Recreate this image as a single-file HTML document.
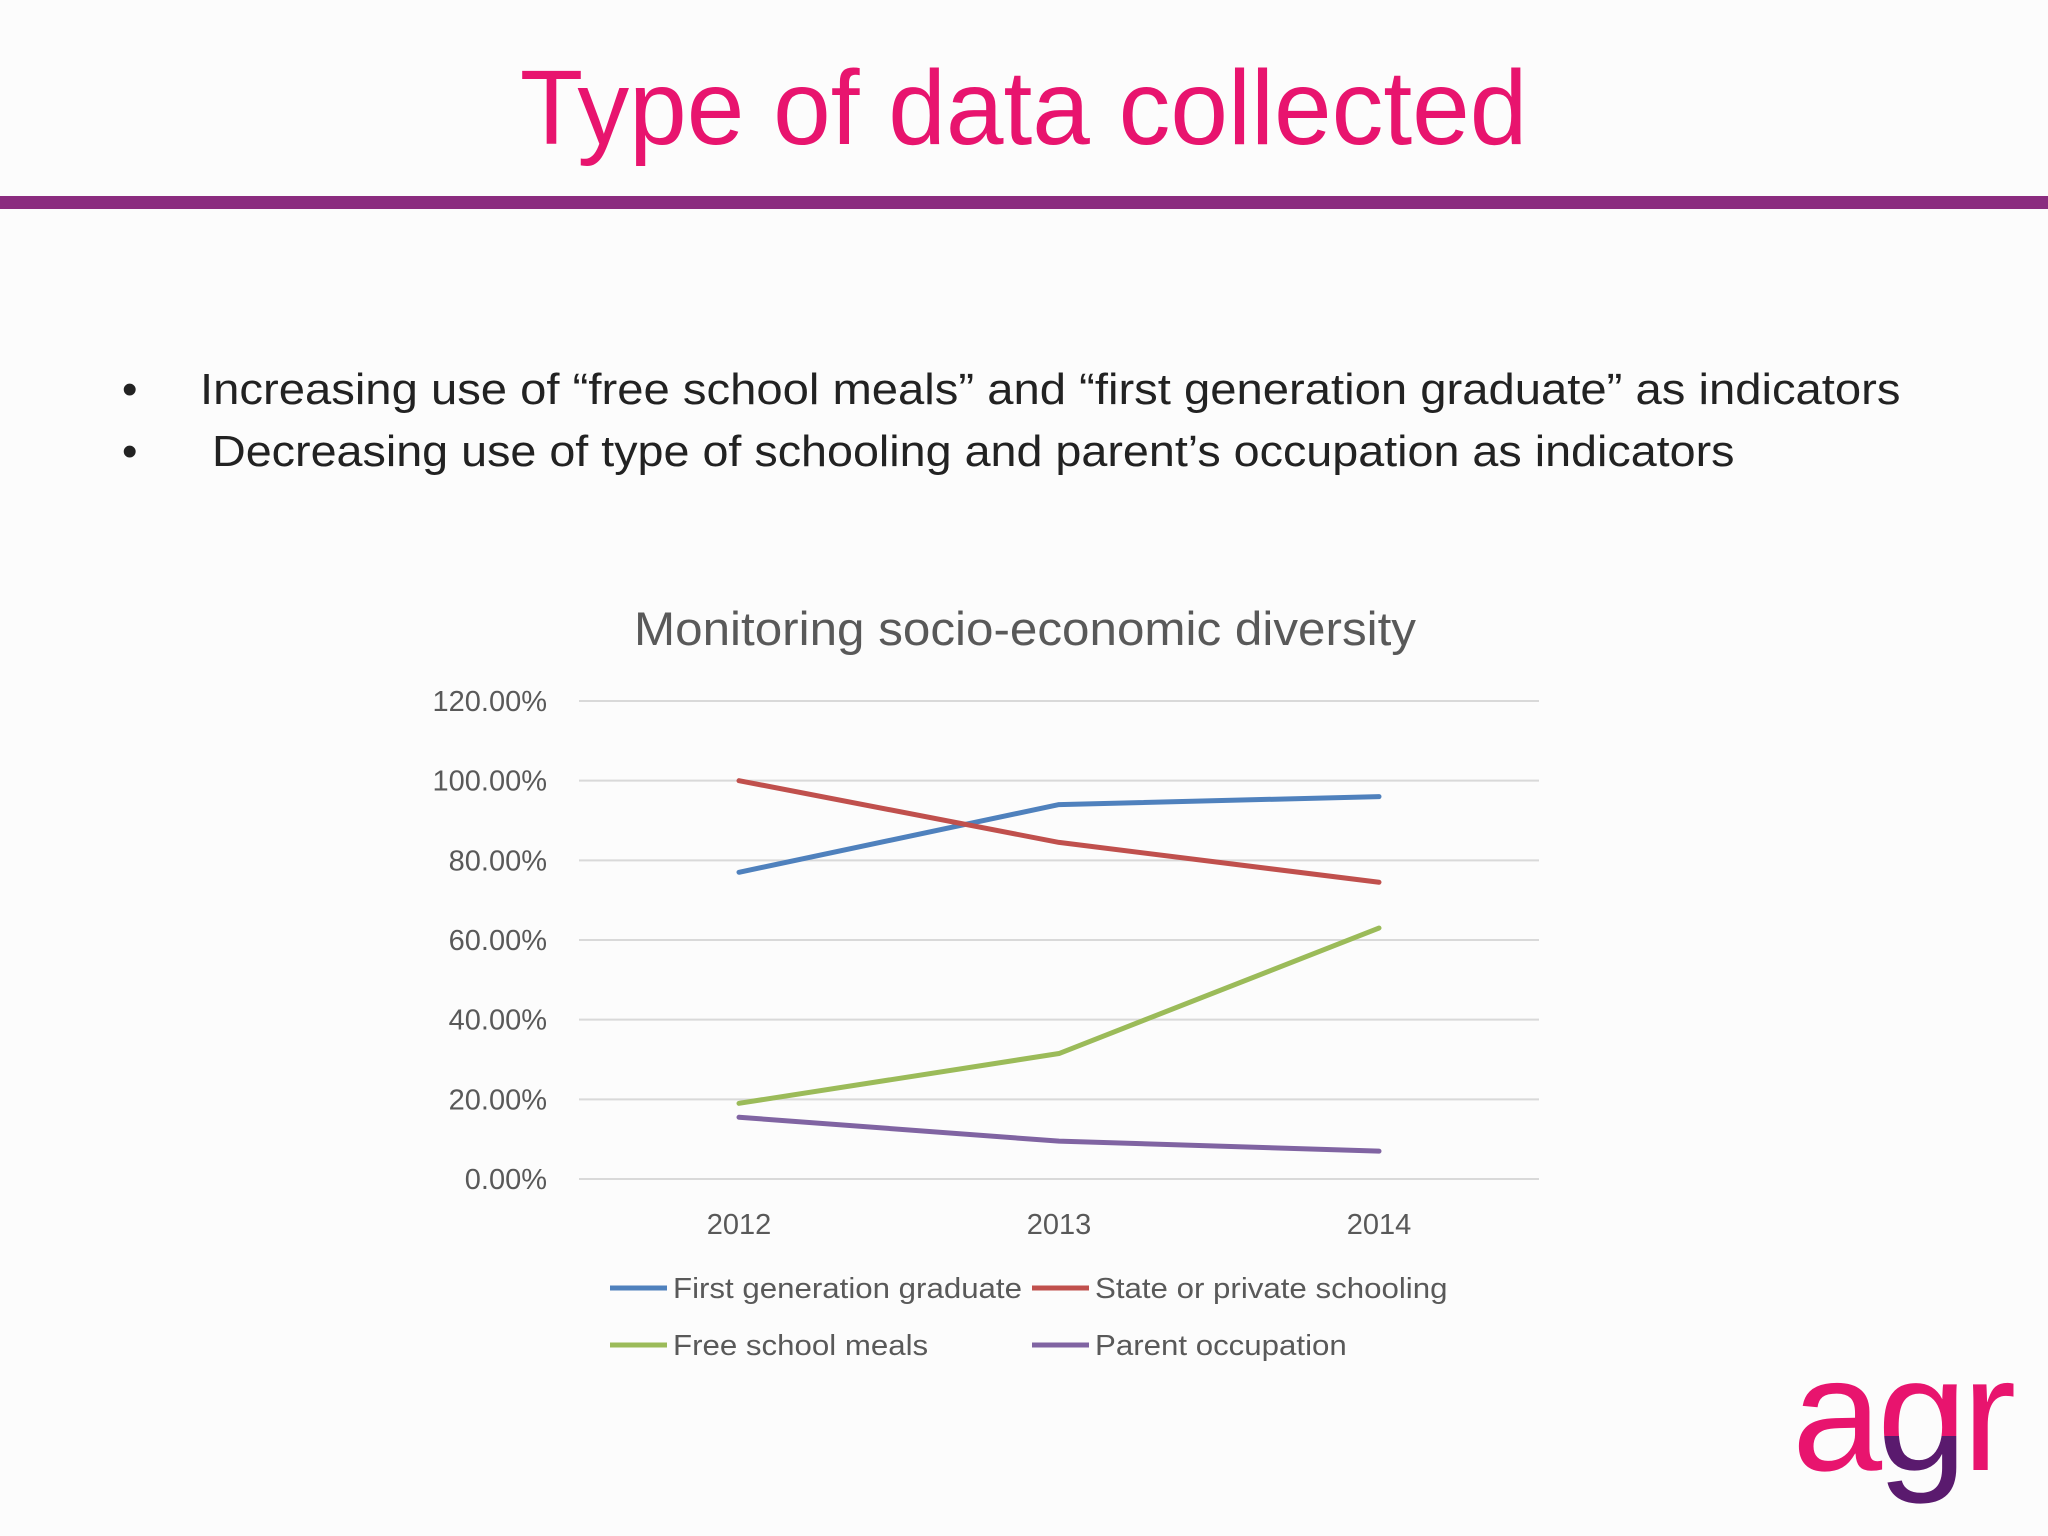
<!DOCTYPE html>
<html><head><meta charset="utf-8"><style>
html,body{margin:0;padding:0}
body{width:2048px;height:1536px;background:#fcfcfc;position:relative;overflow:hidden;font-family:"Liberation Sans","DejaVu Sans",sans-serif}
.abs{position:absolute}
.sx{display:inline-block;transform-origin:0 50%}
</style></head><body>
<div class="abs" style="left:0;width:2048px;top:48px;text-align:center;font-size:106px;color:#e8146e;line-height:120px"><span style="display:inline-block;transform:scaleX(0.977)">Type of data collected</span></div>
<div class="abs" style="left:0;top:196px;width:2048px;height:13px;background:#8b2c7f"></div>
<div class="abs" style="left:122px;top:365px;font-size:44px;color:#222;white-space:nowrap">•<span class="sx" style="position:absolute;left:78px;transform:scaleX(1.073)">Increasing use of “free school meals” and “first generation graduate” as indicators</span></div>
<div class="abs" style="left:122px;top:427px;font-size:44px;color:#222;white-space:nowrap">•<span class="sx" style="position:absolute;left:90px;transform:scaleX(1.061)">Decreasing use of type of schooling and parent’s occupation as indicators</span></div>
<svg class="abs" style="left:0;top:0" width="2048" height="1536" id="chart"></svg>
<div class="abs" style="left:1792px;top:1322px;font-size:162px;color:#e8146e;letter-spacing:-5px">a<span style="background:linear-gradient(#e8146e 0,#e8146e 62%,#5a1a6e 62%);-webkit-background-clip:text;background-clip:text;color:transparent">g</span>r</div>
<script>
const categories=["2012","2013","2014"];
const seriesNames=["First generation graduate","State or private schooling","Free school meals","Parent occupation"];
const firstGen=[77,94,96];
const schooling=[100,84.5,74.5];
const meals=[19,31.5,63];
const parentOcc=[15.5,9.5,7];
const yTicks=[0,20,40,60,80,100,120];
const colors=["#4f81bd","#c0504d","#9bbb59","#8064a2"];
const svg=document.getElementById('chart');const NS='http://www.w3.org/2000/svg';
const x0=579,x1=1539,yTop=701,yBot=1179;
const y=v=>yBot-(v/120)*(yBot-yTop);
const x=i=>x0+(i+0.5)*(x1-x0)/categories.length;
function mk(t,a){const e=document.createElementNS(NS,t);for(const k in a)e.setAttribute(k,a[k]);svg.appendChild(e);return e;}
let t=mk('text',{x:1025,y:645,'text-anchor':'middle','font-size':47,fill:'#595959',textLength:782,lengthAdjust:'spacingAndGlyphs'});t.textContent='Monitoring socio-economic diversity';


yTicks.forEach(v=>{const l=mk('line',{x1:x0,x2:x1,y1:y(v),y2:y(v),stroke:'#d9d9d9','stroke-width':2});


const tx=mk('text',{x:547,y:y(v)+10,'text-anchor':'end','font-size':29,fill:'#595959'});tx.textContent=v.toFixed(2)+'%';

});
categories.forEach((c,i)=>{const tx=mk('text',{x:x(i),y:1234,'text-anchor':'middle','font-size':29,fill:'#595959'});tx.textContent=c;

});
[firstGen,schooling,meals,parentOcc].forEach((s,k)=>{const p=mk('polyline',{points:s.map((v,i)=>x(i)+','+y(v)).join(' '),fill:'none',stroke:colors[k],'stroke-width':5,'stroke-linejoin':'round','stroke-linecap':'round'});


const lx=[610,1032][k%2],ly=[1288,1345][Math.floor(k/2)];
const ll=mk('line',{x1:lx,x2:lx+57,y1:ly,y2:ly,stroke:colors[k],'stroke-width':5});


const lt=mk('text',{x:lx+63,y:ly+10,'font-size':29,fill:'#595959'});lt.textContent=seriesNames[k];


const w=lt.getComputedTextLength();lt.setAttribute('textLength',w*1.077);lt.setAttribute('lengthAdjust','spacingAndGlyphs');});
</script>
</body></html>
